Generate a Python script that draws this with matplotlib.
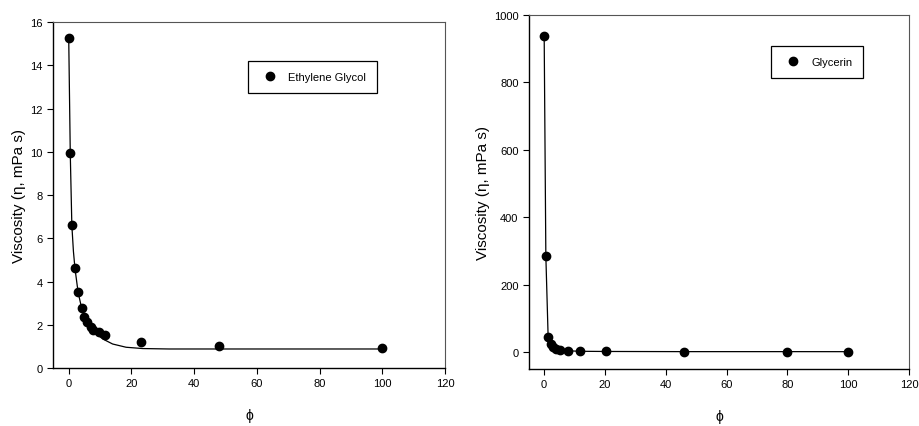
import matplotlib
matplotlib.use("Agg")
import matplotlib.pyplot as plt

plt.rcParams['font.family'] = ['Liberation Sans', 'DejaVu Sans']

# Ethylene glycol: measured points
eg_phi = [0, 0.5, 1, 2, 2.9, 4.2, 4.9, 5.8, 7.1, 7.9, 9.6, 11.6, 23.2, 47.9, 100]
eg_visc = [15.28, 9.94, 6.62, 4.62, 3.51, 2.78, 2.38, 2.15, 1.89, 1.77, 1.65, 1.52, 1.2, 1.02, 0.92]

# Ethylene glycol: fitted curve
eg_fit_phi = [0, 0.5, 1, 1.5, 2, 3, 4, 5, 6, 7.7, 9, 10.9, 14, 18.3, 23.6, 32, 50, 100]
eg_fit_visc = [15.3, 9.9, 6.6, 5.4, 4.6, 3.5, 2.85, 2.4, 2.1, 1.8, 1.55, 1.34, 1.11, 0.96, 0.9, 0.88, 0.88, 0.88]

# Glycerin
gl_phi = [0, 0.55, 1.3, 2.3, 3.0, 3.8, 5.1, 7.7, 11.9, 20.4, 46, 80, 100]
gl_visc = [939, 285, 46, 24, 14, 9, 6, 4, 2.5, 2, 1.5, 1.5, 1.4]

fig = plt.figure(figsize=(9.19, 4.27), dpi=100)
ax1 = fig.add_axes([0.0577, 0.1358, 0.4266, 0.8103])
ax2 = fig.add_axes([0.5756, 0.1335, 0.4135, 0.8290])


def style(ax, ypad):
    for side in ['top', 'right']:
        ax.spines[side].set_color('#555555')
        ax.spines[side].set_linewidth(0.8)
    for side in ['left', 'bottom']:
        ax.spines[side].set_linewidth(1.0)
    ax.tick_params(direction='out', length=4, width=0.8, labelsize=8,
                   top=False, right=False)
    ax.set_xlabel('ϕ', fontsize=10, labelpad=14)
    ax.set_ylabel('Viscosity (η, mPa s)', fontsize=11, labelpad=ypad)


def legend(ax, anchor):
    leg = ax.legend(loc='upper left', bbox_to_anchor=anchor, fontsize=8,
                    fancybox=False, edgecolor='black', framealpha=1,
                    borderpad=1.0, handlelength=2.0, handletextpad=0.6,
                    borderaxespad=0)
    leg.get_frame().set_linewidth(0.9)


ax1.plot(eg_fit_phi, eg_fit_visc, color='black', linewidth=0.9)
ax1.plot(eg_phi, eg_visc, 'o', color='black', markersize=6, label='Ethylene Glycol')
ax1.set_xlim(-5, 120)
ax1.set_ylim(0, 16)
ax1.set_xticks(range(0, 121, 20))
ax1.set_yticks(range(0, 17, 2))
style(ax1, 3)
legend(ax1, (0.497, 0.887))

ax2.plot(gl_phi, gl_visc, '-', color='black', linewidth=0.9)
ax2.plot(gl_phi, gl_visc, 'o', color='black', markersize=6, label='Glycerin')
ax2.set_xlim(-5, 120)
ax2.set_ylim(-50, 1000)
ax2.set_xticks(range(0, 121, 20))
ax2.set_yticks(range(0, 1001, 200))
style(ax2, 3)
legend(ax2, (0.637, 0.912))

fig.savefig('out.png', dpi=100)
